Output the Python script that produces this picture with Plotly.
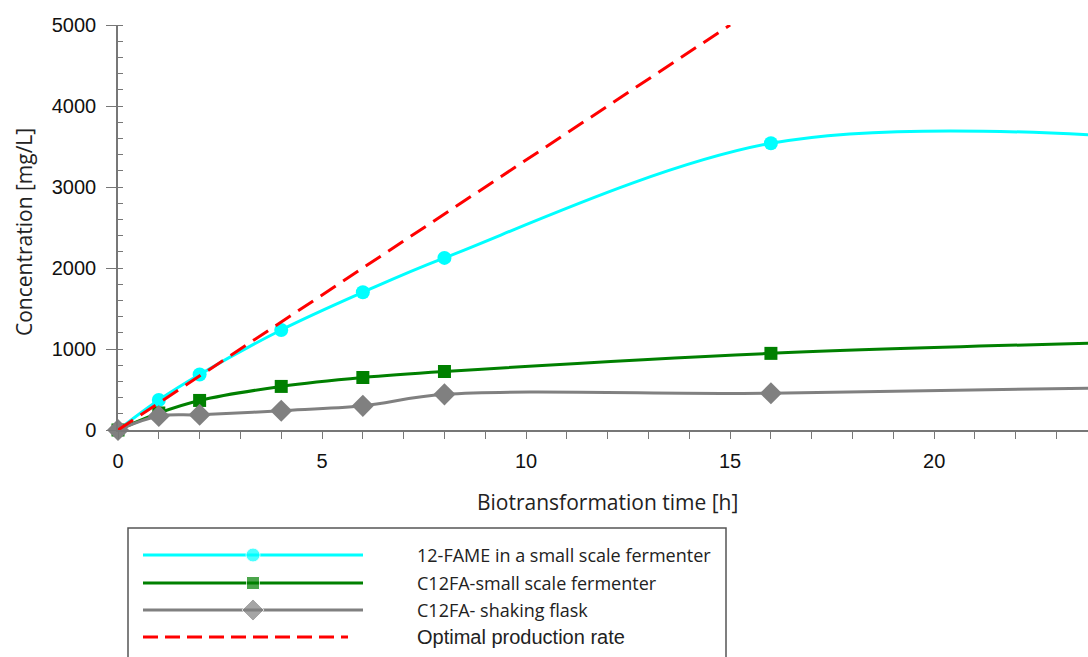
import plotly.graph_objects as go

# ---- data ----
time_h = [0, 1, 2, 4, 6, 8, 16, 24]
fame_fermenter = [0, 370, 685, 1235, 1700, 2125, 3540, 3640]
c12fa_fermenter = [0, 210, 365, 538, 648, 722, 946, 1075]
c12fa_flask = [0, 172, 188, 238, 298, 440, 453, 518]
optimal_time = [0, 15]
optimal_conc = [0, 5000]

series_names = ["12-FAME in a small scale fermenter", "C12FA-small scale fermenter",
                "C12FA- shaking flask", "Optimal production rate"]

W, H = 1088, 657
fig = go.Figure()

fig.add_trace(go.Scatter(x=time_h, y=fame_fermenter, mode="lines+markers",
                         line=dict(color="#00FFFF", width=3, shape="spline"),
                         marker=dict(symbol="circle", size=14, color="#00FFFF"),
                         cliponaxis=False, showlegend=False))
fig.add_trace(go.Scatter(x=time_h, y=c12fa_fermenter, mode="lines+markers",
                         line=dict(color="#008000", width=3, shape="spline"),
                         marker=dict(symbol="square", size=13, color="#008000"),
                         cliponaxis=False, showlegend=False))
fig.add_trace(go.Scatter(x=time_h, y=c12fa_flask, mode="lines+markers",
                         line=dict(color="#808080", width=3, shape="spline"),
                         marker=dict(symbol="diamond", size=17, color="#808080"),
                         cliponaxis=False, showlegend=False))
fig.add_trace(go.Scatter(x=optimal_time, y=optimal_conc, mode="lines",
                         line=dict(color="#FF0000", width=3, dash="18px,9px"),
                         showlegend=False))

# ---- custom legend on a pixel-coordinate axis ----
leg_rows = [555, 583, 610, 637]
leg_styles = [("#00FFFF", "circle", 14, "solid"), ("#008000", "square", 13, "solid"),
              ("#808080", "diamond", 17, "solid"), ("#FF0000", "circle", 0, "15px,7px")]
for (col, sym, sz, dash), yrow, name in zip(leg_styles, leg_rows, series_names):
    x_end = 363 if dash == "solid" else 348
    fig.add_trace(go.Scatter(x=[143, 253, x_end], y=[yrow] * 3, mode="lines+markers",
                             xaxis="x2", yaxis="y2",
                             line=dict(color=col, width=3, dash=dash),
                             marker=dict(symbol=sym, size=[0, sz, 0], color=col),
                             showlegend=False, hoverinfo="skip"))
    fnt = dict(family="Open Sans", size=18, color="#222") if dash == "solid" else \
        dict(family="Liberation Sans, Arial", size=20, color="#222")
    fig.add_annotation(x=415 / W, y=1 - yrow / H, xref="paper", yref="paper", text=name,
                       showarrow=False, xanchor="left", yanchor="middle", font=fnt)

fig.add_shape(type="rect", xref="paper", yref="paper", x0=128 / W, x1=726 / W,
              y0=1 - 528 / H, y1=-0.1, line=dict(color="#555", width=1.5),
              fillcolor="rgba(0,0,0,0)")

# axis titles
fig.add_annotation(x=607 / W, y=1 - 502 / H, xref="paper", yref="paper",
                   xanchor="center", yanchor="middle",
                   text="Biotransformation time [h]", showarrow=False,
                   font=dict(family="Open Sans", size=21, color="#222"))
fig.add_annotation(x=24 / W, y=1 - 232 / H, xref="paper", yref="paper",
                   xanchor="center", yanchor="middle",
                   text="Concentration [mg/L]", textangle=-90, showarrow=False,
                   font=dict(family="Open Sans", size=21, color="#222"))

tickfont = dict(family="Liberation Sans, Arial", size=20, color="#111")
fig.update_layout(
    width=W, height=H, margin=dict(l=0, r=0, t=0, b=0),
    paper_bgcolor="white", plot_bgcolor="rgba(0,0,0,0)",
    xaxis=dict(domain=[118 / W, 1], range=[0, 23.77], showgrid=False, zeroline=False,
               showline=True, linecolor="#777", linewidth=1.5,
               tickmode="linear", tick0=0, dtick=5, ticks="outside", ticklen=7,
               tickcolor="#777", tickwidth=1.2, tickfont=tickfont, automargin=False,
               ticklabelstandoff=5,
               minor=dict(dtick=1, ticks="outside", ticklen=7, tickcolor="#777", tickwidth=1.2,
                          showgrid=False)),
    yaxis=dict(domain=[(H - 430) / H, (H - 25) / H], range=[0, 5000], showgrid=False,
               zeroline=False, showline=True, linecolor="#777", linewidth=1.5,
               tickmode="linear", tick0=0, dtick=1000, ticks="outside", ticklen=10,
               tickcolor="#777", tickwidth=1.2, tickfont=tickfont, automargin=False,
               ticklabelstandoff=6,
               minor=dict(dtick=200, ticks="inside", ticklen=5, tickcolor="#777", tickwidth=1.2,
                          showgrid=False)),
    xaxis2=dict(domain=[0, 1], range=[0, W], visible=False, anchor="y2"),
    yaxis2=dict(domain=[0, 1], range=[H, 0], visible=False, anchor="x2"),
)

fig.write_html("out.html")
